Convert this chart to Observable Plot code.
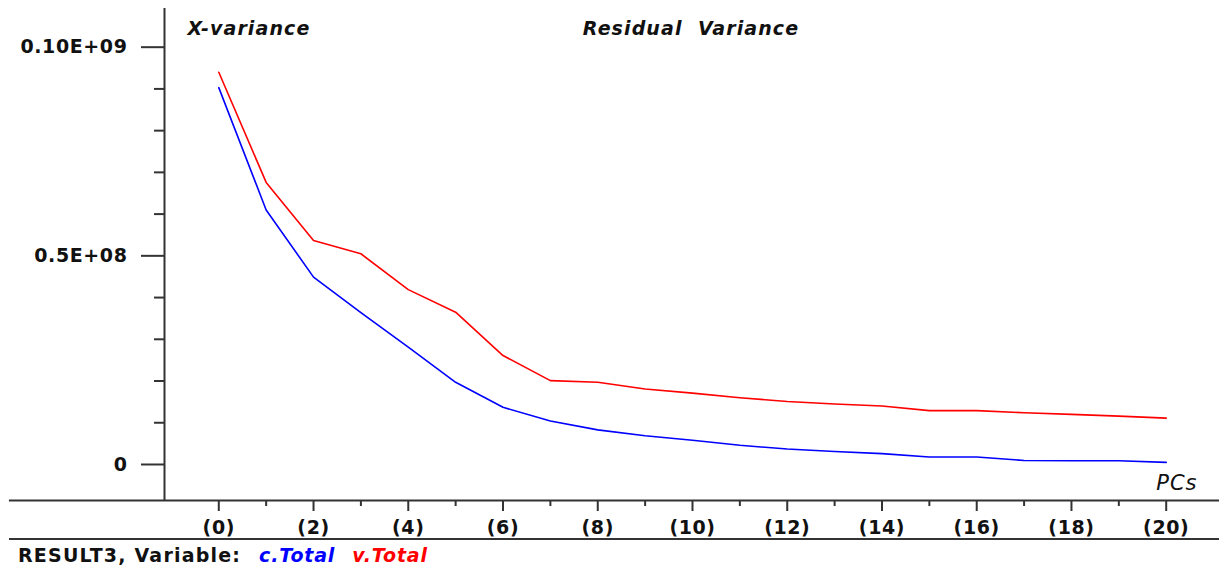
<!DOCTYPE html>
<html><head><meta charset="utf-8">
<script src="https://cdn.jsdelivr.net/npm/d3@7"></script>
<script src="https://cdn.jsdelivr.net/npm/@observablehq/plot@0.6"></script>
<style>
body{margin:0;background:#fff;font-family:"DejaVu Sans",sans-serif;}
#chart svg{display:block;overflow:visible;letter-spacing:0.6px;}
#chart svg .ttl text{letter-spacing:1.1px;}
#chart svg .pcs text{letter-spacing:1px;}
#legend{margin-left:9px;border-top:2px solid #333;height:29px;line-height:30px;font-weight:bold;font-size:19px;color:#111;padding-left:9px;white-space:pre;letter-spacing:1.2px;}
#legend .c{color:#0000ff;font-style:italic;margin-left:18px;letter-spacing:0.8px;}
#legend .v{color:#ff0000;font-style:italic;margin-left:17px;letter-spacing:0.8px;}
</style></head><body>
<div id="chart"></div>
<div id="legend"></div>
<script>
// Data
const pcs = [0,1,2,3,4,5,6,7,8,9,10,11,12,13,14,15,16,17,18,19,20];
const cTotal = [0.903,0.610,0.449,0.364,0.281,0.197,0.137,0.104,0.083,0.069,0.058,0.046,0.037,0.031,0.026,0.018,0.018,0.0096,0.009,0.009,0.005].map(v=>v*1e8);
const vTotal = [0.940,0.676,0.537,0.505,0.419,0.365,0.261,0.201,0.197,0.181,0.171,0.160,0.151,0.145,0.140,0.129,0.129,0.124,0.120,0.116,0.111].map(v=>v*1e8);
const seriesNames = ["c.Total","v.Total"];
const seriesColors = ["#0000ff","#ff0000"];
const xMajorTicks = [0,2,4,6,8,10,12,14,16,18,20];
const xMinorTicks = [1,3,5,7,9,11,13,15,17,19];
const yMajorTicks = [0,5e7,1e8];
const yMajorLabels = ["0","0.5E+08","0.10E+09"];
const yMinorTicks = [1e7,2e7,3e7,4e7,6e7,7e7,8e7,9e7];
const titleLeft = "X-variance";
const titleCenter = "Residual\u00a0\u00a0Variance";
const xLabel = "PCs";
const legendPrefix = "RESULT3, Variable:";

const rows = [];
pcs.forEach((p,i)=>{
  rows.push({pc:p, value:cTotal[i], series:seriesNames[0]});
  rows.push({pc:p, value:vTotal[i], series:seriesNames[1]});
});

const xDomain = [-1.146, 21.125];
const yDomain = [-0.0863e8, 1.0927e8];
const axisLineStart = -4.42;
const axisColor = "#333";

const chart = Plot.plot({
  width: 1219,
  height: 538,
  marginLeft: 164,
  marginRight: 0,
  marginTop: 8,
  marginBottom: 38,
  style: {fontFamily: "DejaVu Sans, sans-serif", fontSize: "19px", fontWeight: "bold", color: "#111", background: "#fff"},
  x: {domain: xDomain},
  y: {domain: yDomain},
  color: {domain: seriesNames, range: seriesColors},
  marks: [
    Plot.ruleX([xDomain[0]], {stroke: axisColor, strokeWidth: 2}),
    Plot.ruleY([{y: yDomain[0], x1: axisLineStart, x2: xDomain[1]}], {y: "y", x1: "x1", x2: "x2", stroke: axisColor, strokeWidth: 2}),
    Plot.axisY({ticks: yMajorTicks, tickSize: 23, tickPadding: 14, tickFormat: d => yMajorLabels[yMajorTicks.indexOf(d)], stroke: axisColor, strokeWidth: 2, label: null}),
    Plot.axisY({ticks: yMinorTicks, tickSize: 10, tickFormat: () => "", stroke: axisColor, strokeWidth: 2, label: null}),
    Plot.axisX({ticks: xMajorTicks, tickSize: 11, tickPadding: 9, tickFormat: d => `(${d})`, stroke: axisColor, strokeWidth: 2, label: null}),
    Plot.axisX({ticks: xMinorTicks, tickSize: 6, tickFormat: () => "", stroke: axisColor, strokeWidth: 2, label: null}),
    Plot.line(rows, {x: "pc", y: "value", z: "series", stroke: "series", strokeWidth: 1.6}),
    Plot.text([titleLeft], {className: "ttl", frameAnchor: "top-left", dx: 23, dy: 20, lineAnchor: "middle", textAnchor: "start", fontStyle: "italic", fontWeight: "bold", fontSize: 19, fill: "#111"}),
    Plot.text([titleCenter], {className: "ttl", frameAnchor: "top", dx: -1, dy: 20, lineAnchor: "middle", fontStyle: "italic", fontWeight: "bold", fontSize: 19, fill: "#111"}),
    Plot.text([xLabel], {className: "pcs", frameAnchor: "bottom-right", dx: -22, dy: -17, lineAnchor: "middle", textAnchor: "end", fontStyle: "italic", fontWeight: "normal", fontSize: 21, fill: "#111"})
  ]
});
document.getElementById("chart").append(chart);

const leg = document.getElementById("legend");
leg.append(document.createTextNode(legendPrefix));
seriesNames.forEach((n,i)=>{
  const s = document.createElement("span");
  s.className = i === 0 ? "c" : "v";
  s.textContent = n;
  leg.append(s);
});
</script>
</body></html>
